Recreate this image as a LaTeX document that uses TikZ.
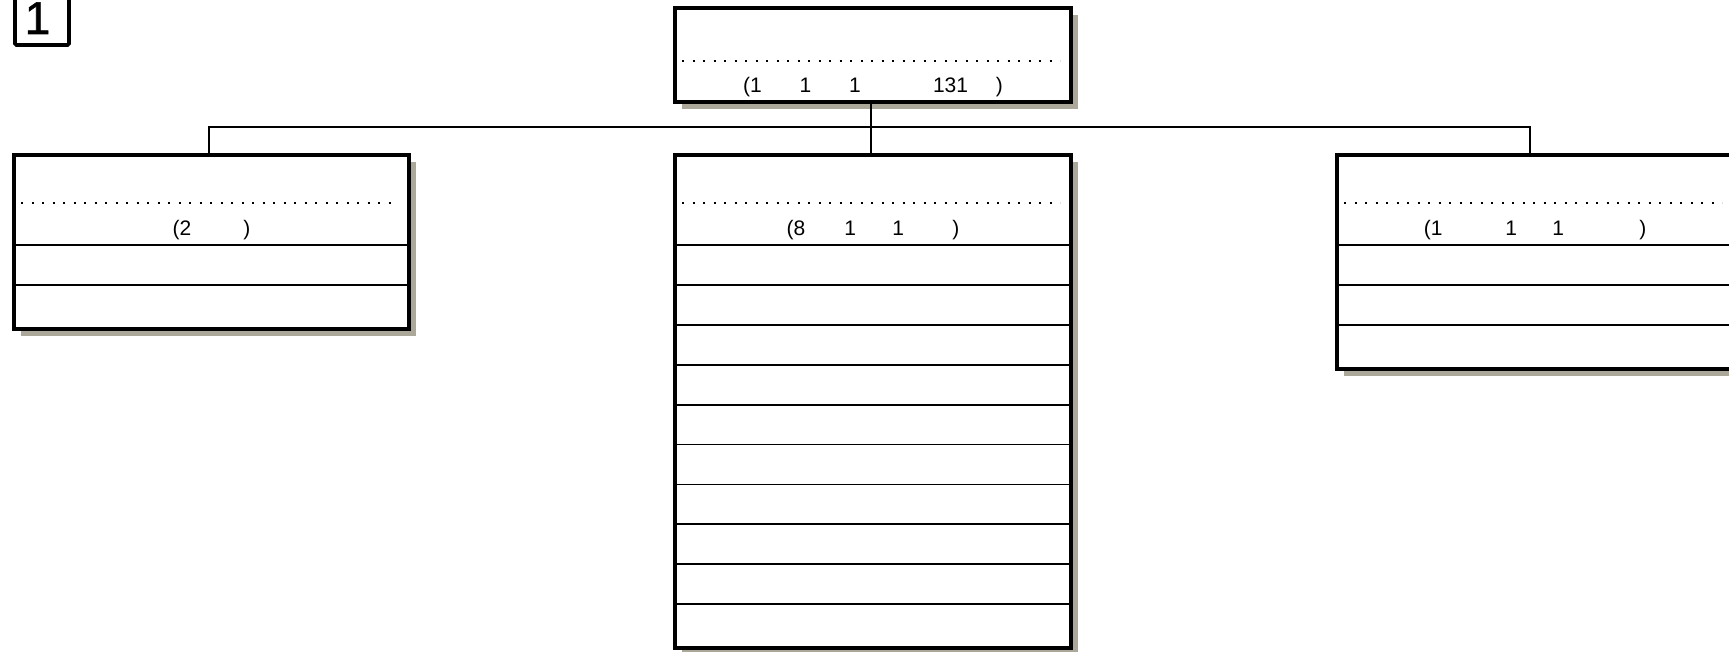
\documentclass[tikz,border=0pt]{standalone}
\usepackage{fontspec}
\setmainfont{Liberation Sans}
\usetikzlibrary{positioning,calc,shadows}
\definecolor{shadowgray}{HTML}{ACA899}
\newcommand{\skipem}[1]{\hspace{#1em}}

\tikzset{
  tablebox/.style={draw, line width=3.5pt, fill=white, outer sep=0pt, inner sep=0pt,
    minimum width=396pt, anchor=north west,
    drop shadow={shadow xshift=7pt, shadow yshift=-7pt, fill=shadowgray, opacity=1}},
  rowrule/.style={line width=1.8pt},
  dotrule/.style={line width=2pt, dash pattern=on 2pt off 8.5pt},
  link/.style={line width=1.4pt},
  rowtext/.style={font=\fontsize{21}{25}\selectfont, inner sep=0pt, anchor=base},
}

\begin{document}
\begin{tikzpicture}[x=1pt, y=-1pt]
    \path[use as bounding box] (0,0) rectangle (1729,652);
    \clip (0,0) rectangle (1729,652);
    % figure number
    \node[draw, line width=3.8pt, rounded corners=1.5pt, outer sep=0pt, minimum width=54pt, minimum height=56pt, anchor=south west] (numframe) at (15,45) {};
    \node[font=\fontsize{46}{46}\selectfont\addfontfeature{FakeBold=1.2}, inner sep=0pt, anchor=base west] (numlabel) at (24.5,34) {1};

    % boxes
    \node[tablebox, minimum height=94pt] (topbox) at (675,8) {};
    \node[tablebox, minimum width=395pt, minimum height=174pt] (leftbox) at (14,155) {};
    \node[tablebox, minimum height=493pt] (midbox) at (675,155) {};
    \node[tablebox, minimum height=214pt] (rightbox) at (1337,155) {};

    % dotted rules
    \draw[dotrule] ([xshift=7pt,yshift=-53pt]topbox.north west) -- ([xshift=-11pt,yshift=-53pt]topbox.north east);
    \foreach \b in {leftbox,midbox,rightbox}
        \draw[dotrule] ([xshift=7pt,yshift=-48pt]\b.north west) -- ([xshift=-11pt,yshift=-48pt]\b.north east);

    % rows
    \foreach \b/\n in {leftbox/2, midbox/10, rightbox/3}
        \foreach \k in {1,...,\n}
            \draw[rowrule] ([yshift={-90pt-(\k-1)*39.9pt}]\b.north west) -- ([yshift={-90pt-(\k-1)*39.9pt}]\b.north east);

    % labels
    \node[rowtext] (toptext) at ([yshift=9.5pt]topbox.south) {(1\skipem{1.8}1\skipem{1.8}1\skipem{3.44}131\skipem{1.32})};
    \node[rowtext] (lefttext) at ([yshift=-80.5pt]leftbox.north) {(2\skipem{2.49})};
    \node[rowtext] (midtext) at ([yshift=-80.5pt]midbox.north) {(8\skipem{1.87}1\skipem{1.73}1\skipem{2.3})};
    \node[rowtext] (righttext) at ([yshift=-80.5pt]rightbox.north) {(1\skipem{3.0}1\skipem{1.68}1\skipem{3.58})};

    % connectors
    \coordinate (bus) at ([xshift=-2pt]topbox.south |- 0,127);
    \draw[link] ([xshift=-2pt]topbox.south) -- ([xshift=-2pt]midbox.north);
    \draw[link] ([xshift=-2.5pt]leftbox.north) |- (bus) -| ([xshift=-5pt]rightbox.north);
\end{tikzpicture}
\end{document}
